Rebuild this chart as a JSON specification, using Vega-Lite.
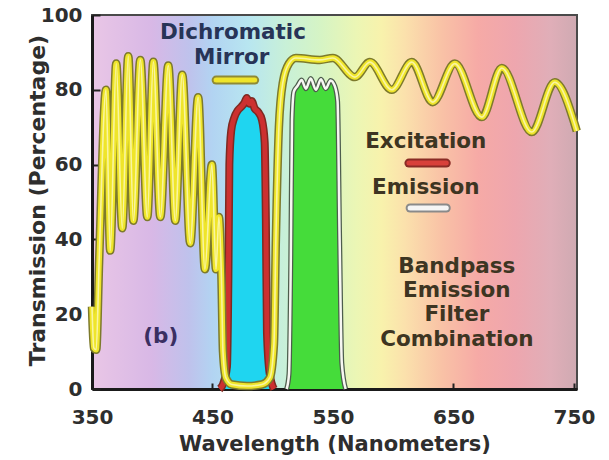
{
  "$schema": "https://vega.github.io/schema/vega-lite/v6.json",
  "width": 485,
  "height": 374,
  "autosize": "none",
  "padding": {"left": 92, "top": 15, "right": 32, "bottom": 71},
  "background": "white",
  "config": {
    "view": {
      "fill": {"gradient": "linear", "x1": 0, "y1": 0, "x2": 1, "y2": 0,
        "stops": [
          {"offset": 0, "color": "#e9c6e6"},
          {"offset": 0.124, "color": "#d8b8e6"},
          {"offset": 0.2, "color": "#bfc2ec"},
          {"offset": 0.249, "color": "#b2d4f2"},
          {"offset": 0.323, "color": "#b8e6f0"},
          {"offset": 0.398, "color": "#c8f0d8"},
          {"offset": 0.473, "color": "#d6f4c4"},
          {"offset": 0.547, "color": "#ecf6b4"},
          {"offset": 0.597, "color": "#f8f2ac"},
          {"offset": 0.647, "color": "#fbe0ac"},
          {"offset": 0.721, "color": "#f9c2a6"},
          {"offset": 0.796, "color": "#f6aaa6"},
          {"offset": 0.871, "color": "#eea6ae"},
          {"offset": 0.945, "color": "#e0aeb8"},
          {"offset": 1, "color": "#cfaab2"}
        ]},
      "stroke": "#4a4a4a",
      "strokeWidth": 2
    }
  },
  "datasets": {
    "mirror": [
      {"nm": 350, "t": 22}, {"nm": 351.5, "t": 11}, {"nm": 353.5, "t": 10.5}, {"nm": 356, "t": 35},
      {"nm": 361.6, "t": 80}, {"nm": 365.1, "t": 37}, {"nm": 370.1, "t": 87}, {"nm": 375.1, "t": 43},
      {"nm": 380.1, "t": 89}, {"nm": 384.3, "t": 45}, {"nm": 390.1, "t": 88}, {"nm": 395.9, "t": 46},
      {"nm": 400.9, "t": 87.5}, {"nm": 406.7, "t": 46}, {"nm": 413.3, "t": 86.5}, {"nm": 419.1, "t": 45},
      {"nm": 424.9, "t": 84}, {"nm": 431.5, "t": 39}, {"nm": 438.1, "t": 78}, {"nm": 443.7, "t": 32},
      {"nm": 449.5, "t": 60}, {"nm": 452.9, "t": 32}, {"nm": 455.3, "t": 46}, {"nm": 457.4, "t": 30},
      {"nm": 458.7, "t": 10}, {"nm": 461.1, "t": 3}, {"nm": 466.1, "t": 1.2}, {"nm": 478.6, "t": 0.8},
      {"nm": 491, "t": 1.2}, {"nm": 497.6, "t": 3}, {"nm": 501, "t": 12}, {"nm": 502.6, "t": 40},
      {"nm": 505.1, "t": 70}, {"nm": 508.4, "t": 82}, {"nm": 513.4, "t": 87}, {"nm": 519.2, "t": 88.5},
      {"nm": 539.1, "t": 88}, {"nm": 549.9, "t": 88.5}, {"nm": 568.2, "t": 83.4}, {"nm": 580.6, "t": 87.4},
      {"nm": 598.8, "t": 80}, {"nm": 615.4, "t": 87.4}, {"nm": 632.8, "t": 76.7}, {"nm": 651.1, "t": 87},
      {"nm": 673.5, "t": 72.7}, {"nm": 690.1, "t": 85.8}, {"nm": 715, "t": 68.7}, {"nm": 734, "t": 82},
      {"nm": 752.3, "t": 69}
    ],
    "excitation": [
      {"nm": 456, "t": 0}, {"nm": 459, "t": 1.5}, {"nm": 462, "t": 6}, {"nm": 463.2, "t": 30},
      {"nm": 464, "t": 60}, {"nm": 465.5, "t": 69}, {"nm": 468, "t": 72.5}, {"nm": 471, "t": 74.5},
      {"nm": 474, "t": 75.5}, {"nm": 476.5, "t": 76.5}, {"nm": 478.5, "t": 77.8}, {"nm": 480.5, "t": 76.3},
      {"nm": 482.5, "t": 77}, {"nm": 485, "t": 75}, {"nm": 488, "t": 74}, {"nm": 491, "t": 72},
      {"nm": 493.3, "t": 66}, {"nm": 494.3, "t": 45}, {"nm": 495.2, "t": 15}, {"nm": 497.5, "t": 4},
      {"nm": 501, "t": 0}
    ],
    "emission": [
      {"nm": 511.5, "t": 0}, {"nm": 513.5, "t": 4}, {"nm": 515, "t": 35}, {"nm": 516, "t": 72},
      {"nm": 517.5, "t": 79.5}, {"nm": 520.5, "t": 81}, {"nm": 524, "t": 82.6}, {"nm": 527.5, "t": 80.3},
      {"nm": 531.5, "t": 83}, {"nm": 535.8, "t": 80}, {"nm": 540, "t": 82.8}, {"nm": 544, "t": 80.3},
      {"nm": 548, "t": 82.5}, {"nm": 551.5, "t": 81}, {"nm": 553.8, "t": 77}, {"nm": 555.5, "t": 40},
      {"nm": 557.3, "t": 7}, {"nm": 560.5, "t": 0}
    ],
    "swatches": [
      {"name": "mirror", "nm": 453, "nm2": 485, "t": 82.6},
      {"name": "excitation", "nm": 613, "nm2": 644, "t": 60.4},
      {"name": "emission", "nm": 614, "nm2": 644, "t": 48.4}
    ],
    "labels": [
      {"text": "Dichromatic", "nm": 467, "t": 95.2, "kind": "mirror"},
      {"text": "Mirror", "nm": 466, "t": 88.5, "kind": "mirror"},
      {"text": "Excitation", "nm": 627, "t": 66, "kind": "filter"},
      {"text": "Emission", "nm": 627, "t": 53.7, "kind": "filter"},
      {"text": "Bandpass", "nm": 652.8, "t": 32.5, "kind": "filter"},
      {"text": "Emission", "nm": 652.8, "t": 26.1, "kind": "filter"},
      {"text": "Filter", "nm": 652.8, "t": 19.9, "kind": "filter"},
      {"text": "Combination", "nm": 652.8, "t": 13, "kind": "filter"},
      {"text": "(b)", "nm": 407, "t": 13.9, "kind": "b"}
    ]
  },
  "encoding": {
    "x": {
      "field": "nm", "type": "quantitative",
      "scale": {"domain": [350, 752.5], "nice": false, "zero": false},
      "axis": {
        "values": [350, 450, 550, 650, 750], "grid": false,
        "title": "Wavelength (Nanometers)",
        "labelFont": "DejaVu Sans", "labelFontWeight": "bold", "labelFontSize": 20, "labelColor": "#2e2e2e",
        "labelPadding": 24, "labelFlush": false,
        "tickSize": -6, "tickWidth": 2, "tickColor": "#222222",
        "domainColor": "#1a1a1a", "domainWidth": 3,
        "titleFont": "DejaVu Sans", "titleFontWeight": "bold", "titleFontSize": 21, "titleColor": "#2e2e2e",
        "titleY": 61, "titleBaseline": "alphabetic"
      }
    },
    "y": {
      "field": "t", "type": "quantitative",
      "scale": {"domain": [0, 100], "nice": false},
      "axis": {
        "values": [0, 20, 40, 60, 80, 100], "grid": false,
        "title": "Transmission (Percentage)",
        "labelFont": "DejaVu Sans", "labelFontWeight": "bold", "labelFontSize": 20, "labelColor": "#2e2e2e",
        "labelPadding": 18, "labelFlush": false,
        "tickSize": -8, "tickWidth": 2, "tickColor": "#222222",
        "domainColor": "#1a1a1a", "domainWidth": 3,
        "titleFont": "DejaVu Sans", "titleFontWeight": "bold", "titleFontSize": 22, "titleColor": "#2e2e2e",
        "titleX": -48, "titleY": 185, "titleAngle": -90, "titleAlign": "center", "titleBaseline": "alphabetic"
      }
    }
  },
  "layer": [
    {"data": {"name": "excitation"}, "mark": {"type": "area", "interpolate": "monotone", "color": "#1fd5f0"}, "encoding": {}},
    {"data": {"name": "excitation"}, "mark": {"type": "line", "interpolate": "monotone", "color": "#7d2a22", "strokeWidth": 8}, "encoding": {}},
    {"data": {"name": "excitation"}, "mark": {"type": "line", "interpolate": "monotone", "color": "#cc3030", "strokeWidth": 5}, "encoding": {}},
    {"data": {"name": "emission"}, "mark": {"type": "area", "interpolate": "monotone", "color": "#45dc3a"}, "encoding": {}},
    {"data": {"name": "emission"}, "mark": {"type": "line", "interpolate": "monotone", "color": "#4d5d4d", "strokeWidth": 5}, "encoding": {}},
    {"data": {"name": "emission"}, "mark": {"type": "line", "interpolate": "monotone", "color": "#f7f7f2", "strokeWidth": 2.5}, "encoding": {}},
    {"data": {"name": "mirror"}, "mark": {"type": "line", "interpolate": "monotone", "color": "#7d7a2c", "strokeWidth": 8.5, "strokeJoin": "round"}, "encoding": {}},
    {"data": {"name": "mirror"}, "mark": {"type": "line", "interpolate": "monotone", "color": "#efe52a", "strokeWidth": 5.5, "strokeJoin": "round"}, "encoding": {}},
    {"data": {"name": "mirror"}, "mark": {"type": "line", "interpolate": "monotone", "color": "#f9f5a0", "strokeWidth": 1.6, "strokeJoin": "round"}, "encoding": {}},
    {
      "data": {"name": "swatches"},
      "mark": {"type": "rule", "strokeWidth": 9, "strokeCap": "round"},
      "encoding": {
        "x2": {"field": "nm2"},
        "color": {"field": "name", "type": "nominal", "legend": null,
          "scale": {"domain": ["mirror", "excitation", "emission"], "range": ["#8f8a35", "#8a2b25", "#8a8a8a"]}}
      }
    },
    {
      "data": {"name": "swatches"},
      "mark": {"type": "rule", "strokeWidth": 5, "strokeCap": "round"},
      "encoding": {
        "x2": {"field": "nm2"},
        "color": {"field": "name", "type": "nominal", "legend": null,
          "scale": {"domain": ["mirror", "excitation", "emission"], "range": ["#efe52a", "#d8403a", "#f5f5f5"]}}
      }
    },
    {
      "data": {"name": "labels"},
      "mark": {"type": "text", "font": "DejaVu Sans", "fontWeight": "bold", "fontSize": 21.5, "align": "center", "baseline": "middle"},
      "encoding": {
        "text": {"field": "text"},
        "color": {"field": "kind", "type": "nominal", "legend": null,
          "scale": {"domain": ["mirror", "filter", "b"], "range": ["#273457", "#3d3522", "#3a2f62"]}}
      }
    }
  ],
  "resolve": {"scale": {"color": "independent"}}
}
